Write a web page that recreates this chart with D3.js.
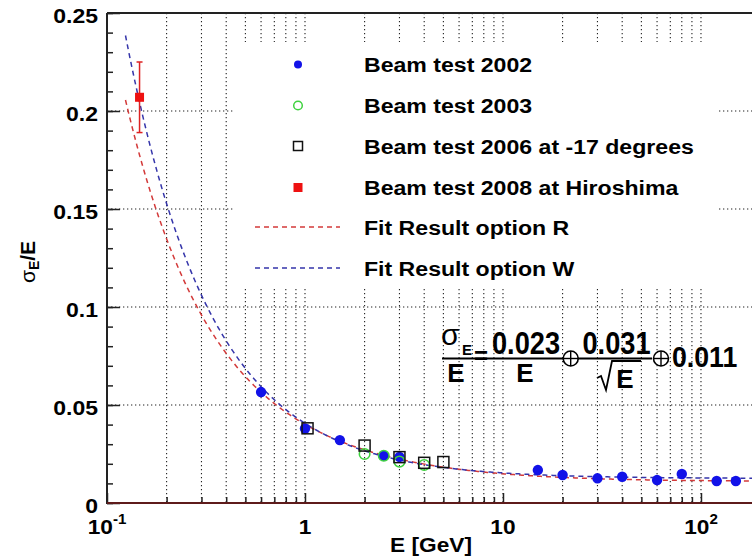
<!DOCTYPE html>
<html>
<head>
<meta charset="utf-8">
<script src="https://cdn.jsdelivr.net/npm/d3@7"></script>
<style>
  body { margin: 0; background: #fff; }
  text { font-family: "Liberation Sans", Arial, sans-serif; font-weight: bold; fill: #000; }
</style>
</head>
<body>
<svg id="chart" width="752" height="557"></svg>
<script>
// data
const energy2002 = [0.6, 1.0, 1.5, 2.5, 3.0, 15, 20, 30, 40, 60, 80, 120, 150];
const res2002 = [0.0566, 0.0380, 0.0321, 0.0241, 0.0235, 0.0168, 0.0143, 0.0126, 0.0134, 0.0117, 0.0148, 0.0112, 0.0112];
const energy2003 = [2.0, 2.5, 3.0, 4.0];
const res2003 = [0.0250, 0.0241, 0.0211, 0.0194];
const energy2006 = [1.03, 2.0, 3.0, 4.0, 5.0];
const res2006 = [0.0381, 0.0293, 0.0234, 0.0205, 0.0209];
const energy2008 = [0.146];
const res2008 = [0.207];
const err2008 = [0.018];

// fit parameters (a/E (+) b/sqrt(E) (+) c)
const fitR = [0.023, 0.031, 0.011];
const fitW = [0.028, 0.0267, 0.0125];
const fitRange = [0.124, 181];

const xTickValues = [0.1, 1, 10, 100];
const xTickLabels = [["10", "-1"], ["1", ""], ["10", ""], ["10", "2"]];
const yTickValues = [0, 0.05, 0.1, 0.15, 0.2, 0.25];
const yTickLabels = ["0", "0.05", "0.1", "0.15", "0.2", "0.25"];

const legendLabels = ["Beam test 2002", "Beam test 2003", "Beam test 2006 at -17 degrees",
  "Beam test 2008 at Hiroshima", "Fit Result option R", "Fit Result option W"];

const svg = d3.select("#chart");
const pLeft = 107, pRight = 752, pTop = 13, pBottom = 503;

const x = d3.scaleLog().domain([0.1, 181]).range([pLeft, pRight]);
const y = d3.scaleLinear().domain([0, 0.25]).range([pBottom, pTop]);

function sText(parent, tx, ty, sx, size, anchor, str) {
  return parent.append("text")
    .attr("transform", `translate(${tx},${ty}) scale(${sx},1)`)
    .attr("text-anchor", anchor)
    .style("font-size", size + "px")
    .text(str);
}

// grid
const grid = svg.append("g").attr("stroke", "#222").attr("stroke-width", 1.1)
  .attr("stroke-dasharray", "1.3,2.7");
grid.selectAll(".vg")
  .data(x.ticks().filter(d => d > 0.1 && d <= 181))
  .enter().append("line")
  .attr("x1", d => x(d)).attr("x2", d => x(d))
  .attr("y1", pTop).attr("y2", pBottom);
grid.selectAll(".hg")
  .data(yTickValues.filter(d => d > 0 && d < 0.25))
  .enter().append("line")
  .attr("x1", pLeft).attr("x2", pRight)
  .attr("y1", d => y(d)).attr("y2", d => y(d));

// fit curves, evaluated along the fit range
function fitValue(p, e) {
  return Math.sqrt(Math.pow(p[0] / e, 2) + Math.pow(p[1] / Math.sqrt(e), 2) + p[2] * p[2]);
}
const lo = Math.log10(fitRange[0]), hi = Math.log10(fitRange[1]);
const fitE = d3.range(0, 401).map(i => Math.pow(10, lo + (hi - lo) * i / 400));
const fitLine = p => d3.line().x(e => x(e)).y(e => y(fitValue(p, e)))(fitE);

svg.append("path").attr("d", fitLine(fitR))
  .attr("fill", "none").attr("stroke", "#d33a3a").attr("stroke-width", 1.5)
  .attr("stroke-dasharray", "5,4");
svg.append("path").attr("d", fitLine(fitW))
  .attr("fill", "none").attr("stroke", "#3535aa").attr("stroke-width", 1.5)
  .attr("stroke-dasharray", "5,4");

// axes
const gx = svg.append("g").attr("transform", `translate(0,${pBottom})`);
gx.call(d3.axisTop(x).tickValues(x.ticks().filter(d => !xTickValues.includes(d))).tickSize(6).tickFormat(""));
gx.call(g => g.select(".domain").remove());
const gx2 = svg.append("g").attr("transform", `translate(0,${pBottom})`);
gx2.call(d3.axisTop(x).tickValues(xTickValues).tickSize(10).tickFormat(""));
gx2.call(g => g.select(".domain").remove());

const gy = svg.append("g").attr("transform", `translate(${pLeft},0)`);
gy.call(d3.axisRight(y).tickValues(d3.range(0, 26).map(i => i / 100)).tickSize(6).tickFormat(""));
gy.call(g => g.select(".domain").remove());
const gy2 = svg.append("g").attr("transform", `translate(${pLeft},0)`);
gy2.call(d3.axisRight(y).tickValues(yTickValues).tickSize(13).tickFormat(""));
gy2.call(g => g.select(".domain").remove());
svg.selectAll("g.tick line").attr("stroke", "#222").attr("stroke-width", 1.5);

svg.append("line").attr("x1", pLeft).attr("x2", pRight).attr("y1", pTop).attr("y2", pTop)
  .attr("stroke", "#222").attr("stroke-width", 2);
svg.append("line").attr("x1", pLeft).attr("x2", pLeft).attr("y1", pTop).attr("y2", pBottom + 1)
  .attr("stroke", "#222").attr("stroke-width", 2);
svg.append("line").attr("x1", pLeft).attr("x2", pRight).attr("y1", pBottom).attr("y2", pBottom)
  .attr("stroke", "#5e1b1b").attr("stroke-width", 2.2);

// tick labels
yTickValues.forEach((v, i) => {
  sText(svg, 98, y(v) + 10, 1.15, 20, "end", yTickLabels[i]);
});
xTickValues.forEach((v, i) => {
  const t = sText(svg, x(v), 534, 1.08, 21, "middle", "");
  t.append("tspan").text(xTickLabels[i][0]);
  if (xTickLabels[i][1]) {
    t.append("tspan").attr("dy", -10).style("font-size", "14px").text(xTickLabels[i][1]);
  }
});

// axis titles
sText(svg, 431, 551.5, 1.08, 21, "middle", "E [GeV]");
const yt = svg.append("text")
  .attr("transform", "translate(35,262) rotate(-90)")
  .attr("text-anchor", "middle").style("font-size", "21px");
yt.append("tspan").style("font-weight", "normal").text("σ");
yt.append("tspan").attr("dy", 4).style("font-size", "14px").text("E");
yt.append("tspan").attr("dy", -4).text("/E");

// legend
svg.append("rect").attr("x", 235).attr("y", 42).attr("width", 483).attr("height", 246).attr("fill", "#fff");
const legendY = [64.5, 105.5, 146, 187.5, 227, 268];
const lg = svg.append("g");
legendLabels.forEach((s, i) => sText(lg, 364, legendY[i] + 7.8, 1.1, 21, "start", s));
lg.append("circle").attr("cx", 298).attr("cy", legendY[0]).attr("r", 4).attr("fill", "#1212e8");
lg.append("circle").attr("cx", 298).attr("cy", legendY[1]).attr("r", 4.3).attr("fill", "none")
  .attr("stroke", "#3fd23f").attr("stroke-width", 1.5);
lg.append("rect").attr("x", 293.5).attr("y", legendY[2] - 4.5).attr("width", 9).attr("height", 9)
  .attr("fill", "none").attr("stroke", "#111").attr("stroke-width", 1.5);
lg.append("rect").attr("x", 293.5).attr("y", legendY[3] - 4.5).attr("width", 9).attr("height", 9)
  .attr("fill", "#ee1111");
lg.append("line").attr("x1", 255).attr("x2", 340).attr("y1", legendY[4]).attr("y2", legendY[4])
  .attr("stroke", "#d33a3a").attr("stroke-width", 1.5).attr("stroke-dasharray", "5,4");
lg.append("line").attr("x1", 255).attr("x2", 340).attr("y1", legendY[5]).attr("y2", legendY[5])
  .attr("stroke", "#3535aa").attr("stroke-width", 1.5).attr("stroke-dasharray", "5,4");

// data points
const pts2002 = energy2002.map((e, i) => ({ e: e, v: res2002[i] }));
const pts2003 = energy2003.map((e, i) => ({ e: e, v: res2003[i] }));
const pts2006 = energy2006.map((e, i) => ({ e: e, v: res2006[i] }));
const pts2008 = energy2008.map((e, i) => ({ e: e, v: res2008[i], err: err2008[i] }));

svg.append("g").selectAll("circle").data(pts2002).enter().append("circle")
  .attr("cx", d => x(d.e)).attr("cy", d => y(d.v)).attr("r", 5.2).attr("fill", "#1212e8");
svg.append("g").selectAll("circle").data(pts2003).enter().append("circle")
  .attr("cx", d => x(d.e)).attr("cy", d => y(d.v)).attr("r", 5.3).attr("fill", "none")
  .attr("stroke", "#3fd23f").attr("stroke-width", 1.5);
svg.append("g").selectAll("rect").data(pts2006).enter().append("rect")
  .attr("x", d => x(d.e) - 5.5).attr("y", d => y(d.v) - 5.5).attr("width", 11).attr("height", 11)
  .attr("fill", "none").attr("stroke", "#111").attr("stroke-width", 1.5);

const g08 = svg.append("g").selectAll("g").data(pts2008).enter().append("g");
g08.append("line").attr("x1", d => x(d.e)).attr("x2", d => x(d.e))
  .attr("y1", d => y(d.v - d.err)).attr("y2", d => y(d.v + d.err))
  .attr("stroke", "#dd2222").attr("stroke-width", 1.5);
g08.append("line").attr("x1", d => x(d.e) - 3).attr("x2", d => x(d.e) + 3)
  .attr("y1", d => y(d.v - d.err)).attr("y2", d => y(d.v - d.err))
  .attr("stroke", "#dd2222").attr("stroke-width", 1.5);
g08.append("line").attr("x1", d => x(d.e) - 3).attr("x2", d => x(d.e) + 3)
  .attr("y1", d => y(d.v + d.err)).attr("y2", d => y(d.v + d.err))
  .attr("stroke", "#dd2222").attr("stroke-width", 1.5);
g08.append("rect").attr("x", d => x(d.e) - 4.5).attr("y", d => y(d.v) - 4.5)
  .attr("width", 9).attr("height", 9).attr("fill", "#ee1111");

// formula
const fm = svg.append("g");
fm.append("line").attr("x1", 442).attr("x2", 563).attr("y1", 358.5).attr("y2", 358.5)
  .attr("stroke", "#000").attr("stroke-width", 2);
fm.append("line").attr("x1", 578).attr("x2", 652).attr("y1", 358.5).attr("y2", 358.5)
  .attr("stroke", "#000").attr("stroke-width", 2);
[570.7, 661].forEach(cx => {
  fm.append("circle").attr("cx", cx).attr("cy", 358.5).attr("r", 7.5)
    .attr("fill", "#fff").attr("stroke", "#000").attr("stroke-width", 1.6);
  fm.append("line").attr("x1", cx - 7.5).attr("x2", cx + 7.5).attr("y1", 358.5).attr("y2", 358.5)
    .attr("stroke", "#000").attr("stroke-width", 1.4);
  fm.append("line").attr("x1", cx).attr("x2", cx).attr("y1", 351).attr("y2", 366)
    .attr("stroke", "#000").attr("stroke-width", 1.4);
});
sText(fm, 441, 345, 1.0, 30, "start", "σ").style("font-weight", "normal");
sText(fm, 462, 355, 1.0, 15, "start", "E");
sText(fm, 481, 364, 1.0, 24, "middle", "=");
sText(fm, 526, 354, 0.85, 32, "middle", "0.023");
sText(fm, 456, 382, 1.0, 26, "middle", "E");
sText(fm, 525, 382, 1.0, 26, "middle", "E");
sText(fm, 616.5, 354, 0.85, 32, "middle", "0.031");
fm.append("path").attr("d", "M597,378 L601,376 L606,390 L612,361 L641,361")
  .attr("fill", "none").attr("stroke", "#000").attr("stroke-width", 1.8);
sText(fm, 625, 388, 1.0, 26, "middle", "E");
sText(fm, 672, 367, 0.89, 30, "start", "0.011");
</script>
</body>
</html>
